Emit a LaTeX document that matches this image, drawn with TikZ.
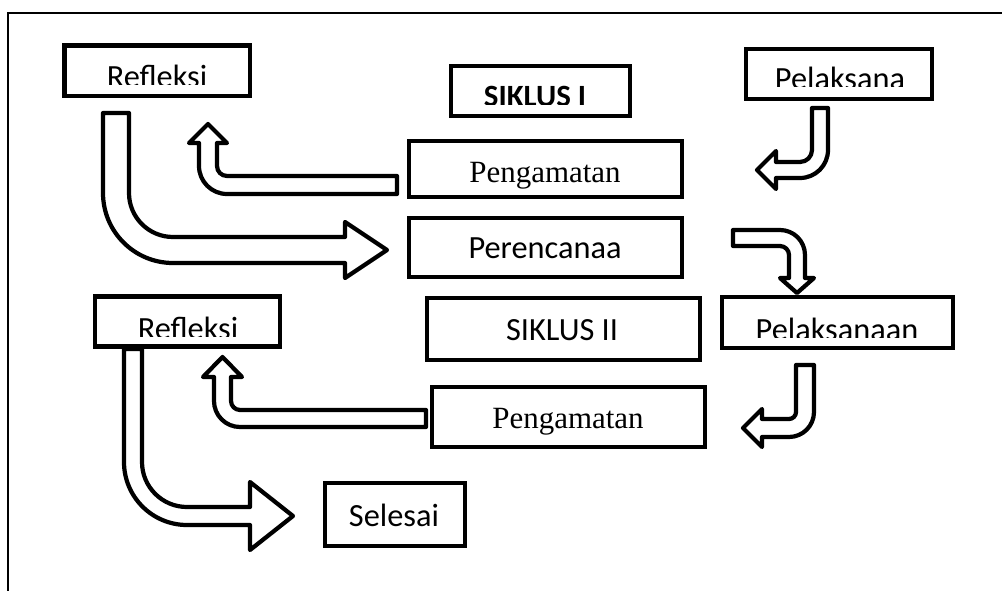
\documentclass[tikz,border=0pt]{standalone}
\usepackage{fontspec}
\setmainfont{Carlito}
\newfontfamily\hurufserif{Liberation Serif}
\usetikzlibrary{fit}

\begin{document}
\begin{tikzpicture}[x=0.025cm,y=-0.025cm,
 kotak/.style={draw,line width=3pt,inner sep=0pt},
 teks/.style={anchor=base,inner sep=0pt,font=\fontsize{23}{27}\selectfont},
 panah/.style={draw,line width=3pt,fill=white,line join=round}]
 \useasboundingbox (0,0) rectangle (1002,591);
 \draw[line width=1pt] (1002,13)--(8,13)--(8,591); %bingkai

 %kotak-kotak
 \node[kotak,fit={(64.5,45.5) (250,96)}] (refleksiA) {}; %Refleksi atas
 \node[kotak,fit={(451,66) (630,116)}] (siklusA) {}; %SIKLUS I
 \node[kotak,fit={(409,141) (682,197)}] (pengamatanA) {}; %Pengamatan atas
 \node[kotak,fit={(409,218) (682,277)}] (perencanaan) {}; %Perencanaa
 \node[kotak,fit={(746,49) (932,99)}] (pelaksanaA) {}; %Pelaksana
 \node[kotak,fit={(95,296.5) (280,346.5)}] (refleksiB) {}; %Refleksi bawah
 \node[kotak,fit={(427,298) (700,360)}] (siklusB) {}; %SIKLUS II
 \node[kotak,fit={(722,297) (953,348)}] (pelaksanaB) {}; %Pelaksanaan
 \node[kotak,fit={(432,387) (705,447)}] (pengamatanB) {}; %Pengamatan bawah
 \node[kotak,fit={(325,483) (465,546)}] (selesai) {}; %Selesai

 %tulisan (sebagian terpotong)
 \begin{scope}
  \clip (66,47) rectangle (248,85);
  \node[teks] (tRefleksiA) at (157,88) {Refleksi};
 \end{scope}
 \begin{scope}
  \clip (453,68) rectangle (628,105);
  \node[teks,font=\fontsize{22}{26}\selectfont\bfseries] (tSiklusA) at (535,107) {SIKLUS I};
 \end{scope}
 \begin{scope}
  \clip (748,51) rectangle (930,87);
  \node[teks] (tPelaksanaA) at (840,90) {Pelaksana};
 \end{scope}
 \begin{scope}
  \clip (97,298) rectangle (278,336);
  \node[teks] (tRefleksiB) at (188,339) {Refleksi};
 \end{scope}
 \begin{scope}
  \clip (724,299) rectangle (951,337);
  \node[teks] (tPelaksanaB) at (837,340) {Pelaksanaan};
 \end{scope}
 \node[teks,font=\fontsize{22}{26}\hurufserif] (tPengamatanA) at (545,182) {Pengamatan};
 \node[teks] (tPerencanaan) at (545,258) {Perencanaa};
 \node[teks] (tSiklusB) at (562,340) {SIKLUS II};
 \node[teks,font=\fontsize{22}{26}\hurufserif] (tPengamatanB) at (568,428) {Pengamatan};
 \node[teks] (tSelesai) at (394,526) {Selesai};

 %panah blok
 \draw[panah] (103,113)--(103,193) arc[start angle=180,end angle=90,radius=70]
  --(345,263)--(345,278)--(387,250)--(345,222)--(345,237)--(173,237)
  arc[start angle=90,end angle=180,radius=44]--(129,113)--cycle; %Refleksi ke Perencanaa
 \draw[panah] (397,176)--(227,176) arc[start angle=90,end angle=180,radius=10]
  --(217,143)--(227,143)--(208,124)--(189,143)--(199,143)--(199,166)
  arc[start angle=180,end angle=90,radius=28]--(397,194)--cycle; %Pengamatan ke Refleksi
 \draw[panah] (812,108)--(812,150) arc[start angle=0,end angle=90,radius=12]
  --(776,162)--(776,151)--(757,170)--(776,189)--(776,178)--(800,178)
  arc[start angle=90,end angle=0,radius=28]--(828,108)--cycle; %Pelaksana ke Pengamatan
 \draw[panah] (733,230)--(780,230) arc[start angle=-90,end angle=0,radius=25]
  --(805,278)--(814,278)--(797,293)--(780,278)--(789,278)--(789,255)
  arc[start angle=0,end angle=-90,radius=9]--(733,246)--cycle; %Perencanaa ke Pelaksanaan
 \draw[panah] (426,410)--(240,410) arc[start angle=90,end angle=180,radius=9]
  --(231,377)--(242,377)--(222.5,357)--(203,377)--(214,377)--(214,401)
  arc[start angle=180,end angle=90,radius=26]--(426,427)--cycle; %Pengamatan ke Refleksi
 \draw[panah] (124,349)--(124,462) arc[start angle=180,end angle=90,radius=63]
  --(250,525)--(250,550)--(293,516)--(250,482)--(250,507)--(187,507)
  arc[start angle=90,end angle=180,radius=45]--(142,349)--cycle; %Refleksi ke Selesai
 \draw[panah] (796,365)--(796,412) arc[start angle=0,end angle=90,radius=7]
  --(762,419)--(762,409)--(743,428)--(762,447)--(762,437)--(789,437)
  arc[start angle=90,end angle=0,radius=25]--(814,365)--cycle; %Pelaksanaan ke Pengamatan
\end{tikzpicture}
\end{document}
